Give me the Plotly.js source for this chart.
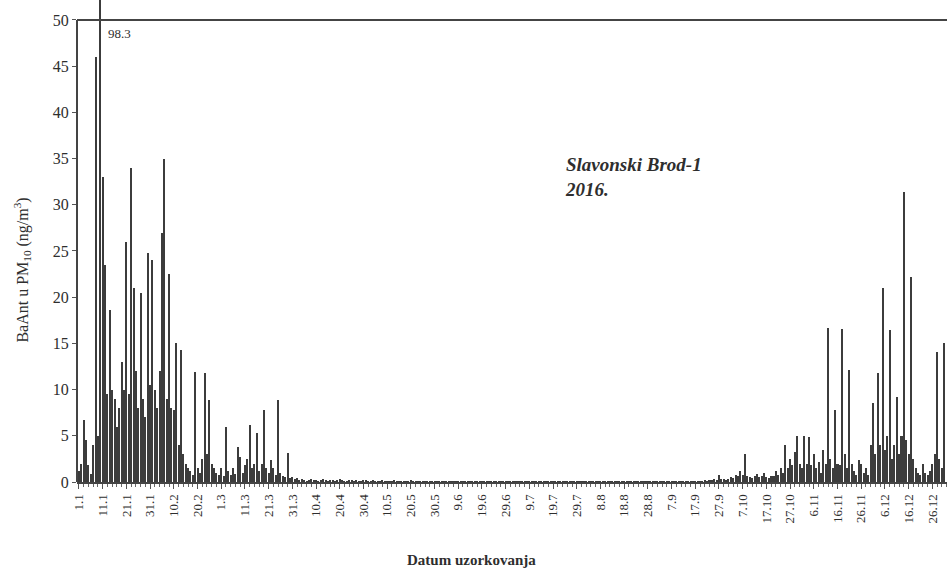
<!DOCTYPE html>
<html>
<head>
<meta charset="utf-8">
<script src="https://cdn.plot.ly/plotly-3.0.1.min.js"></script>
<style>
  html, body { margin: 0; padding: 0; background: #fff; overflow: hidden; }
  #chart { width: 947px; height: 573px; }
</style>
</head>
<body>
<div id="chart"></div>
<script>
// Daily BaAnt concentrations in PM10 (ng/m3), Slavonski Brod-1, 2016
const jan = [1.2, 2.0, 6.7, 4.5, 1.8, 0.9, 4.0, 46.0, 5.0, 98.3, 33.0, 23.5, 9.5, 18.6, 10.0, 9.0,
             6.0, 8.0, 13.0, 10.0, 26.0, 9.5, 34.0, 21.0, 12.0, 8.0, 20.5, 9.0, 7.0, 24.8, 10.5];
const feb = [24.0, 10.0, 8.0, 12.0, 27.0, 35.0, 9.0, 22.5, 8.0, 7.8, 15.0, 4.0, 14.3, 3.0, 2.0,
             1.5, 1.2, 0.8, 11.9, 1.5, 1.0, 2.5, 11.8, 3.0, 8.9, 2.0, 1.5, 1.0, 0.8];
const mar = [1.5, 0.6, 6.0, 1.2, 0.8, 1.5, 0.9, 3.8, 2.7, 1.0, 1.8, 2.5, 6.2, 1.5, 2.0, 5.3,
             1.2, 2.0, 7.8, 1.5, 1.0, 2.4, 1.5, 0.8, 8.9, 1.0, 0.6, 0.5, 3.1, 0.4, 0.5];
const apr = [0.3, 0.4, 0.2, 0.3, 0.2, 0.1, 0.2, 0.3, 0.2, 0.2, 0.1, 0.2, 0.3, 0.2, 0.1,
             0.2, 0.2, 0.1, 0.2, 0.3, 0.2, 0.1, 0.1, 0.2, 0.2, 0.1, 0.2, 0.1, 0.1, 0.2];
const may = [0.2, 0.1, 0.1, 0.2, 0.1, 0.1, 0.1, 0.2, 0.1, 0.1, 0.1, 0.1, 0.2, 0.1, 0.1, 0.1,
             0.1, 0.1, 0.1, 0.2, 0.1, 0.1, 0.1, 0.1, 0.1, 0.1, 0.1, 0.1, 0.1, 0.1, 0.1];
const jun = [0.1, 0.1, 0.1, 0.1, 0.1, 0.1, 0.1, 0.1, 0.1, 0.1, 0.1, 0.1, 0.1, 0.1, 0.1,
             0.1, 0.1, 0.1, 0.1, 0.1, 0.1, 0.1, 0.1, 0.1, 0.1, 0.1, 0.1, 0.1, 0.1, 0.1];
const jul = [0.1, 0.1, 0.1, 0.1, 0.1, 0.1, 0.1, 0.1, 0.1, 0.1, 0.1, 0.1, 0.1, 0.1, 0.1, 0.1,
             0.1, 0.1, 0.1, 0.1, 0.1, 0.1, 0.1, 0.1, 0.1, 0.1, 0.1, 0.1, 0.1, 0.1, 0.1];
const aug = [0.1, 0.1, 0.1, 0.1, 0.1, 0.1, 0.1, 0.1, 0.1, 0.1, 0.1, 0.1, 0.1, 0.1, 0.1, 0.1,
             0.1, 0.1, 0.1, 0.1, 0.1, 0.1, 0.1, 0.1, 0.1, 0.1, 0.1, 0.1, 0.1, 0.1, 0.1];
const sep = [0.1, 0.1, 0.1, 0.1, 0.1, 0.1, 0.1, 0.1, 0.1, 0.1, 0.1, 0.1, 0.1, 0.1, 0.1,
             0.1, 0.1, 0.1, 0.1, 0.1, 0.2, 0.1, 0.2, 0.2, 0.3, 0.2, 0.8, 0.3, 0.3, 0.2];
const oct = [0.3, 0.5, 0.4, 0.8, 0.6, 1.2, 0.8, 3.0, 0.7, 0.5, 0.4, 0.6, 0.9, 0.5, 0.6, 1.0,
             0.5, 0.4, 0.7, 0.6, 1.2, 0.8, 1.5, 1.0, 4.0, 1.5, 2.5, 1.8, 3.2, 5.0, 2.0];
const nov = [1.5, 5.0, 2.0, 4.9, 1.8, 3.0, 1.5, 2.2, 1.0, 3.5, 2.0, 16.7, 2.5, 1.5, 7.8,
             2.0, 1.8, 16.6, 3.0, 1.5, 12.1, 2.0, 1.2, 0.8, 2.4, 2.0, 1.0, 1.5, 0.8, 4.0];
const dec = [8.5, 3.0, 11.8, 4.0, 21.0, 3.5, 5.0, 16.5, 2.5, 4.0, 9.2, 3.0, 5.0, 31.4, 4.5, 3.0,
             22.2, 2.5, 1.5, 1.0, 0.8, 2.0, 1.0, 0.8, 1.2, 2.0, 3.0, 14.1, 2.5, 1.5, 15.0];

// Tick labels (every tenth day of the year)
const tickLabels = ['1.1', '11.1', '21.1', '31.1', '10.2', '20.2', '1.3', '11.3', '21.3', '31.3',
  '10.4', '20.4', '30.4', '10.5', '20.5', '30.5', '9.6', '19.6', '29.6', '9.7', '19.7', '29.7',
  '8.8', '18.8', '28.8', '7.9', '17.9', '27.9', '7.10', '17.10', '27.10', '6.11', '16.11',
  '26.11', '6.12', '16.12', '26.12'];

const values = [].concat(jan, feb, mar, apr, may, jun, jul, aug, sep, oct, nov, dec);
const days = values.map((v, i) => i + 1);
const tickDays = tickLabels.map((t, i) => 1 + 10 * i);

// tallest sample, labelled beside its bar
const peakIdx = values.indexOf(Math.max(...values));

const serif = 'Liberation Serif, Times New Roman, serif';
const ink = '#2e2e2e';

const trace = {
  type: 'bar',
  x: days,
  y: values,
  width: 0.85,
  marker: { color: '#3c3c3c', line: { width: 0 } },
  hoverinfo: 'x+y'
};

const layout = {
  width: 947,
  height: 573,
  margin: { l: 77, r: 0, t: 0, b: 91 },
  paper_bgcolor: '#ffffff',
  plot_bgcolor: '#ffffff',
  showlegend: false,
  bargap: 0,
  xaxis: {
    range: [0.16, 367.2],
    tickmode: 'array',
    tickvals: tickDays,
    ticktext: tickLabels,
    tickangle: -90,
    ticks: 'outside',
    ticklen: 5,
    tickcolor: '#555',
    tickfont: { family: serif, size: 13, color: ink },
    showgrid: false,
    zeroline: false,
    showline: true,
    linecolor: '#444',
    linewidth: 2,
    minor: { tickmode: 'linear', tick0: 1, dtick: 2, ticks: 'outside', ticklen: 3, tickcolor: '#666', showgrid: false }
  },
  yaxis: {
    range: [0, 52.16],
    tickmode: 'array',
    tickvals: [0, 5, 10, 15, 20, 25, 30, 35, 40, 45, 50],
    ticks: 'outside',
    ticklen: 4,
    tickcolor: '#555',
    tickfont: { family: serif, size: 16, color: ink },
    showgrid: false,
    zeroline: false,
    showline: false
  },
  shapes: [
    // top frame line at 50
    { type: 'line', xref: 'paper', yref: 'y', x0: 0, x1: 1, y0: 50, y1: 50,
      line: { color: '#444', width: 2 } },
    // left axis line from 0 to 50
    { type: 'line', xref: 'paper', yref: 'y', x0: 0, x1: 0, y0: 0, y1: 50,
      line: { color: '#444', width: 2 } }
  ],
  annotations: [
    { x: days[peakIdx] + 2.2, y: 48.5, xref: 'x', yref: 'y', xanchor: 'left', yanchor: 'middle',
      text: String(values[peakIdx]), showarrow: false,
      font: { family: serif, size: 13, color: ink } },
    { x: 205, y: 33.0, xref: 'x', yref: 'y', xanchor: 'left', yanchor: 'middle', align: 'left',
      text: '<b><i>Slavonski Brod-1<br>2016.</i></b>', showarrow: false,
      font: { family: serif, size: 19, color: ink } },
    { x: -0.063, y: 22.9, xref: 'paper', yref: 'y', xanchor: 'center', yanchor: 'middle',
      textangle: -90, text: 'BaAnt u PM<sub>10</sub> (ng/m<sup>3</sup>)', showarrow: false,
      font: { family: serif, size: 16, color: ink } },
    { x: 166.8, y: -0.162, xref: 'x', yref: 'paper', xanchor: 'center', yanchor: 'middle',
      text: '<b>Datum uzorkovanja</b>', showarrow: false,
      font: { family: serif, size: 15, color: ink } }
  ]
};

Plotly.newPlot('chart', [trace], layout, { displayModeBar: false, staticPlot: true });
</script>
</body>
</html>
